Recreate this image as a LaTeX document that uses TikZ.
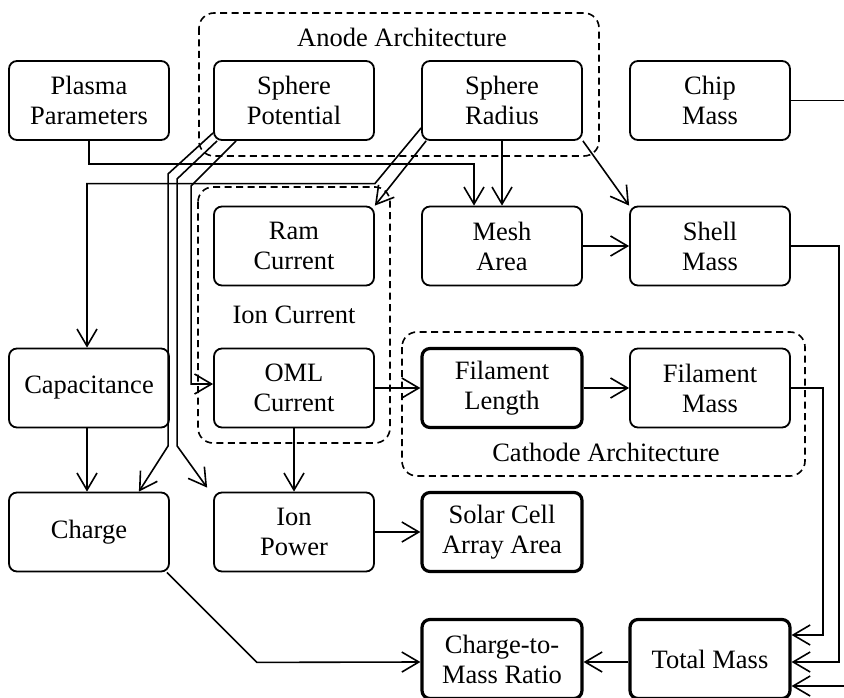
\documentclass[tikz,border=0pt]{standalone}
\usepackage{fontspec}
\setmainfont{Liberation Serif}
\usetikzlibrary{arrows.meta,positioning,calc}

\begin{document}
\begin{tikzpicture}[x=1pt, y=-1pt,
    blk/.style={draw, line width=1.8pt, rounded corners=8pt, minimum width=160pt,
      minimum height=79pt, align=center, inner sep=0pt, font=\fontsize{26.5}{30}\selectfont},
    keyblk/.style={blk, line width=3.2pt},
    arr/.style={line width=1.6pt, -{Straight Barb[length=17pt, width=20pt]}},
    grp/.style={line width=1.6pt, dash pattern=on 7pt off 4.5pt, rounded corners=15pt},
    lbl/.style={font=\fontsize{26.5}{30}\selectfont}]
    \useasboundingbox (0,0) rectangle (844,698);

    % groups
    \draw[grp] (199,13) rectangle (599,156);
    \node[lbl] (anodelbl) at (402,37) {Anode Architecture};
    \draw[grp] (198,187) rectangle (390,443);
    \node[lbl] (ionlbl) at (294,315) {Ion Current};
    \draw[grp] (402,332) rectangle (805,476);
    \node[lbl] (cathlbl) at (606,452) {Cathode Architecture};

    % row 1
    \node[blk] (plasma) at (89,100.5) {Plasma\\Parameters};
    \node[blk] (pot) at (294,100.5) {Sphere\\Potential};
    \node[blk] (radius) at (502,100.5) {Sphere\\Radius};
    \node[blk] (chip) at (710,100.5) {Chip\\Mass};

    % row 2
    \node[blk] (ram) at (294,246) {Ram\\Current};
    \node[blk] (mesh) at (502,246) {Mesh\\Area};
    \node[blk] (shell) at (710,246) {Shell\\Mass};

    % row 3
    \node[blk] (cap) at (89,388) {Capacitance};
    \node[blk] (oml) at (294,388) {OML\\Current};
    \node[keyblk] (flen) at (502,388) {Filament\\Length};
    \node[blk] (fmass) at (710,388) {Filament\\Mass};

    % row 4
    \node[blk] (charge) at (89,532) {Charge};
    \node[blk] (ionp) at (294,532) {Ion\\Power};
    \node[keyblk] (solar) at (502,532) {Solar Cell\\Array Area};

    % row 5
    \node[keyblk] (c2m) at (502,659) {Charge-to-\\Mass Ratio};
    \node[keyblk] (total) at (710,659) {Total Mass};

    % plasma and radius
    \draw[arr] (plasma.south) -- ++(0,23) -| ([xshift=-28pt]mesh.north);
    \draw[arr] ([yshift=-27.5pt]radius.west) -- ([yshift=22pt]ram.north east)
      -| ([xshift=-2pt]cap.north);
    \draw[arr] ([xshift=5pt]radius.south west) -- (ram.north east);
    \draw[arr] (radius.south) -- (mesh.north);
    \draw[arr] (radius.south east) -- (shell.north west);

    % potential
    \draw[arr] ([yshift=8pt]pot.south west) -- ++(-45,41) -- ++(0,272)
      -- ([xshift=-31pt]charge.north east);
    \draw[arr] ([xshift=4pt]pot.south west) -- ++(-40,38) -- ++(0,267)
      -- ([xshift=-6pt,yshift=4pt]ionp.north west);
    \draw[arr] ([xshift=23pt]pot.south west) -- ++(-45,45) |- ([yshift=4pt]oml.west);

    % middle
    \draw[arr] (mesh.east) -- (shell.west);
    \draw[arr] (oml.east) -- (flen.west);
    \draw[arr] (flen.east) -- (fmass.west);
    \draw[arr] (oml.south) -- (ionp.north);
    \draw[arr] ([xshift=-2pt]cap.south) -- ([xshift=-2pt]charge.north);
    \draw[arr] (ionp.east) -- (solar.west);

    % masses
    \draw[arr] (chip.east) -- ++(60,0) |- ([yshift=-27pt]total.east);
    \draw[arr] (shell.east) -- ++(48,0) |- ([yshift=-3pt]total.east);
    \draw[arr] (fmass.east) -- ++(32,0) |- ([yshift=24pt]total.east);
    \draw[arr] ([yshift=-3pt]total.west) -- ([yshift=-3pt]c2m.east);
    \draw[arr] ([xshift=-3pt]charge.south east) -- ++(90,90) -- ([yshift=-3pt]c2m.west);
\end{tikzpicture}
\end{document}
